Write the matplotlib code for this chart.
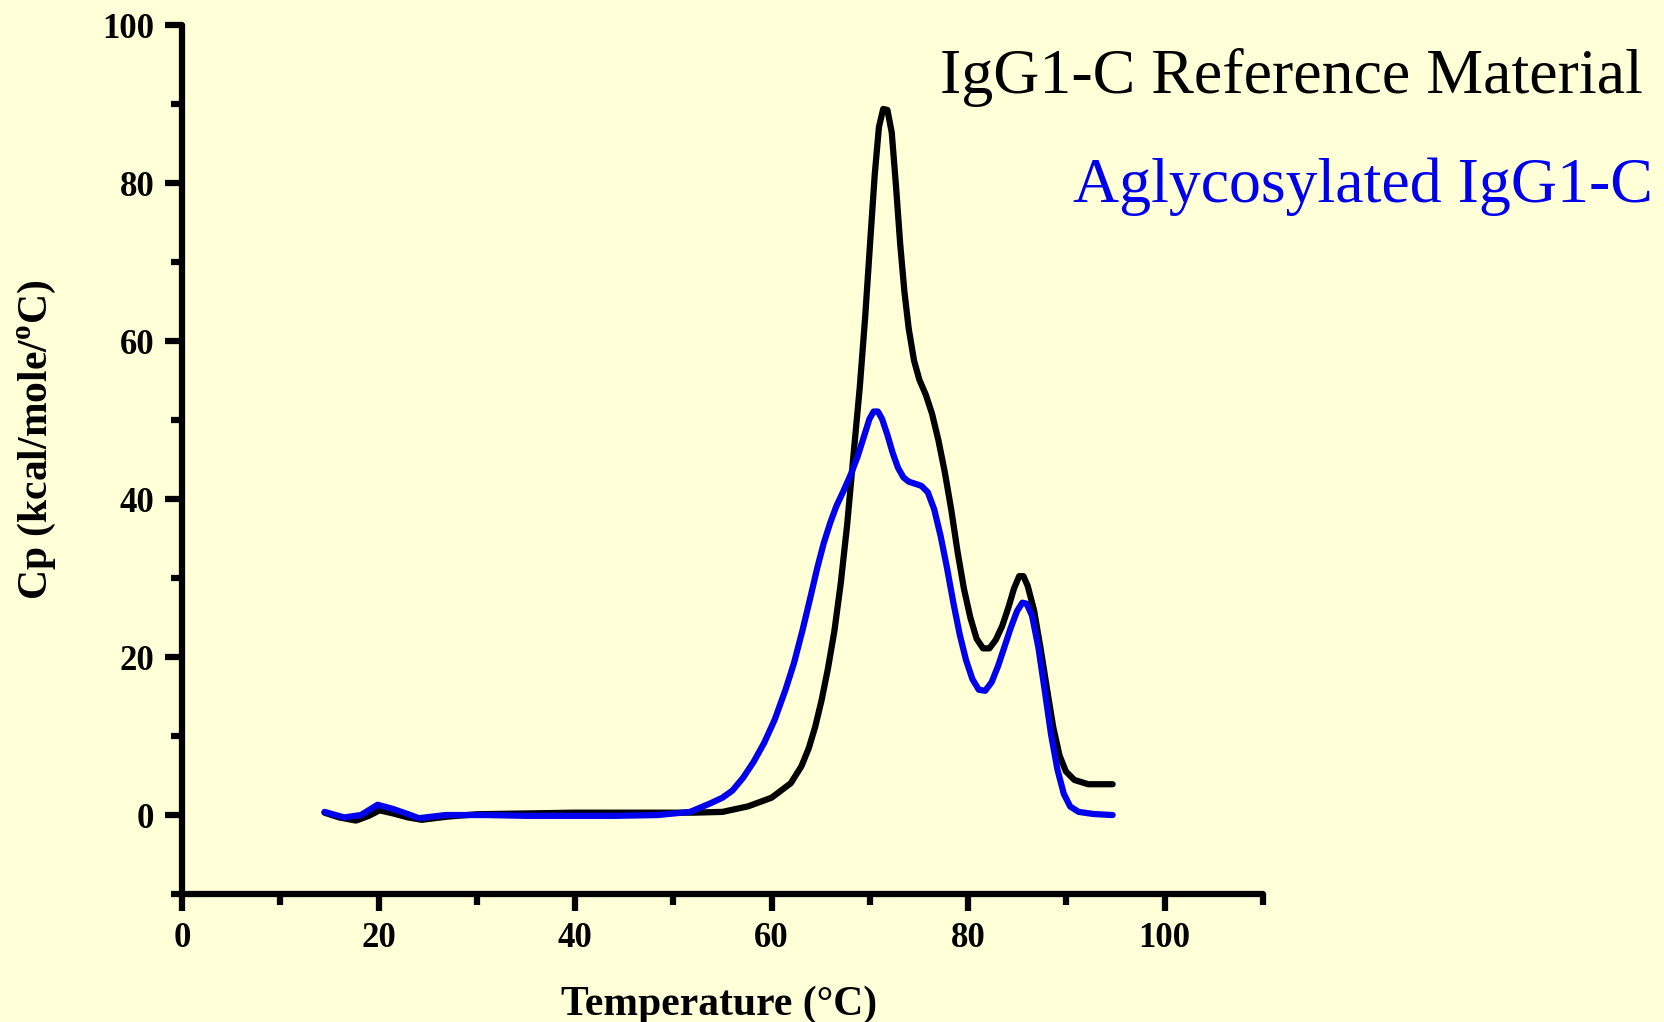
"""
DSC thermogram: IgG1-C reference vs aglycosylated IgG1-C.
"""
import matplotlib

matplotlib.use("Agg")
import matplotlib.pyplot as plt
from matplotlib.ticker import MultipleLocator

# --------------------------------------------------------------------------- #
# Data
# --------------------------------------------------------------------------- #
ref_temp = [14.5, 16.0, 17.7, 19.0, 20.1, 21.5, 23.0, 24.4, 27.0, 30.0, 35.0,
            39.8, 44.0, 48.4, 52.0, 55.0, 57.6, 60.0, 61.95, 63.03, 63.78,
            64.43, 65.08, 65.73, 66.38, 67.03, 67.68, 68.32, 68.97, 69.51,
            70.05, 70.49, 70.92, 71.35, 71.78, 72.22, 72.65, 73.08, 73.51,
            73.95, 74.49, 75.03, 75.68, 76.32, 76.97, 77.62, 78.27, 78.92,
            79.57, 80.22, 80.86, 81.51, 82.16, 82.81, 83.46, 84.11, 84.65,
            85.19, 85.62, 86.05, 86.70, 87.35, 88.00, 88.65, 89.30, 89.95,
            90.81, 92.22, 94.70]
ref_cp = [0.3, -0.3, -0.7, -0.1, 0.6, 0.2, -0.3, -0.6, -0.2, 0.1, 0.2,
          0.3, 0.3, 0.3, 0.3, 0.4, 1.1, 2.2, 4.03, 6.18, 8.47,
          11.16, 14.52, 18.55, 23.25, 29.30, 36.69, 45.43, 54.17, 62.90,
          72.98, 81.05, 87.10, 89.38, 89.25, 86.42, 79.70, 72.31, 66.26,
          61.56, 57.53, 55.11, 53.23, 50.81, 47.45, 43.41, 38.71, 33.33,
          28.63, 25.00, 22.31, 21.10, 21.10, 22.18, 23.92, 26.34, 28.63,
          30.24, 30.24, 29.03, 25.94, 21.24, 16.13, 11.16, 7.53, 5.51,
          4.44, 3.90, 3.90]

agly_temp = [14.5, 16.5, 18.2, 19.9, 21.4, 22.8, 24.1, 26.8, 31.0, 35.0, 39.8,
             44.0, 48.4, 51.7, 53.8, 55.0, 56.00, 57.08, 58.16, 59.24, 60.32,
             61.41, 62.27, 63.14, 63.89, 64.65, 65.30, 65.95, 66.59, 67.35,
             68.11, 68.76, 69.41, 69.95, 70.38, 70.81, 71.24, 71.78, 72.32,
             72.86, 73.41, 73.95, 74.59, 75.24, 75.89, 76.54, 77.19, 77.84,
             78.49, 79.14, 79.78, 80.43, 81.08, 81.73, 82.38, 83.03, 83.68,
             84.32, 84.97, 85.51, 85.95, 86.49, 87.14, 87.78, 88.43, 89.08,
             89.73, 90.38, 91.24, 92.76, 94.70]
agly_cp = [0.4, -0.3, 0.0, 1.3, 0.8, 0.2, -0.4, 0.0, 0.0, -0.1, -0.1,
           -0.1, 0.0, 0.4, 1.5, 2.2, 3.09, 4.70, 6.72, 9.14, 12.10,
           15.86, 19.22, 23.39, 27.28, 31.32, 34.41, 36.96, 39.11, 41.13,
           43.28, 45.43, 47.98, 50.13, 51.08, 51.08, 50.13, 48.12, 45.83,
           43.95, 42.74, 42.20, 41.94, 41.67, 40.86, 38.71, 35.35, 31.32,
           26.88, 22.85, 19.62, 17.20, 15.86, 15.73, 16.80, 18.82, 21.24,
           23.66, 25.81, 26.88, 26.75, 25.27, 21.24, 15.86, 10.22, 5.78,
           2.69, 1.08, 0.40, 0.13, 0.00]

series_labels = ["IgG1-C Reference Material", "Aglycosylated IgG1-C"]
series_colors = ["black", "#0000EE"]

BG = "#FFFFD8"

plt.rcParams["font.family"] = ["Liberation Serif", "DejaVu Serif"]

fig = plt.figure(figsize=(16.64, 10.22), dpi=100, facecolor=BG)
ax = fig.add_axes([0.1094, 0.1252, 0.6496, 0.8503])
ax.set_facecolor(BG)

ax.plot(ref_temp, ref_cp, color=series_colors[0], lw=4.5,
        solid_joinstyle="round", solid_capstyle="round")
ax.plot(agly_temp, agly_cp, color=series_colors[1], lw=4.5,
        solid_joinstyle="round", solid_capstyle="round")

ax.set_xlim(0, 110)
ax.set_ylim(-10, 100)
ax.xaxis.set_major_locator(MultipleLocator(20))
ax.xaxis.set_minor_locator(MultipleLocator(10))
ax.yaxis.set_major_locator(MultipleLocator(20))
ax.yaxis.set_minor_locator(MultipleLocator(10))

for side in ("top", "right"):
    ax.spines[side].set_visible(False)
for side in ("left", "bottom"):
    ax.spines[side].set_linewidth(4.5)
    ax.spines[side].set_capstyle("round")

ax.tick_params(which="major", direction="out", length=12, width=4.5,
               pad=8, labelsize=25)
ax.tick_params(which="minor", direction="out", length=8, width=4.5)
for lab in ax.get_xticklabels() + ax.get_yticklabels():
    lab.set_fontweight("bold")

# axis titles placed in figure coords to match the reference layout
fig.text(0.4321, 0.0068, "Temperature (°C)", fontsize=30, fontweight="bold",
         ha="center", va="baseline")
fig.text(0.0222, 0.5695, "Cp (kcal/mole/$^\\mathregular{o}$C)", fontsize=30,
         fontweight="bold", ha="center", va="center", rotation=90)

fig.text(0.9874, 0.909, series_labels[0], color=series_colors[0],
         fontsize=46, ha="right", va="baseline")
fig.text(0.9934, 0.802, series_labels[1], color=series_colors[1],
         fontsize=46, ha="right", va="baseline")

fig.savefig("out.png", dpi=100, facecolor=BG)
plt.close("all")
